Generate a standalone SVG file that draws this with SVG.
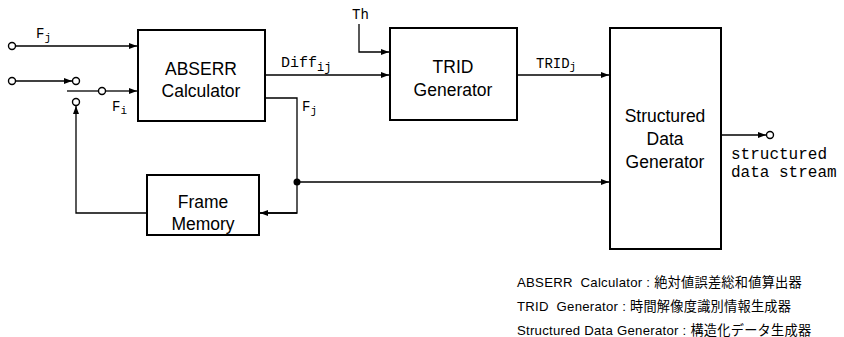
<svg xmlns="http://www.w3.org/2000/svg" width="844" height="337" viewBox="0 0 844 337">
<style>
.box{fill:#fff;stroke:#000;stroke-width:2}
.ln{fill:none;stroke:#000;stroke-width:1.3}
.term{fill:#fff;stroke:#000;stroke-width:1.4}
.lbl{font-family:"Liberation Sans",Arial,sans-serif;font-size:17.5px;fill:#000;text-anchor:middle}
.mono{font-family:"Liberation Mono","Courier New",monospace;font-size:14px;fill:#000}
.out{font-size:16px}
.leg{font-family:"Liberation Sans","Noto Sans CJK JP",sans-serif;font-size:13.2px;letter-spacing:0.25px;fill:#000;white-space:pre}
</style>
<defs>
<marker id="ar" markerWidth="8" markerHeight="6" refX="8" refY="3" orient="auto" markerUnits="userSpaceOnUse">
<path d="M0,0 L8,3 L0,6 z" fill="#000"/>
</marker>
</defs>
<rect width="844" height="337" fill="#fff"/>
<g id="abserr">
<rect class="box" x="138" y="30" width="127" height="91"/>
<text class="lbl" x="201" y="75">ABSERR</text>
<text class="lbl" x="201" y="97">Calculator</text>
</g>
<g id="trid">
<rect class="box" x="390" y="28" width="127" height="92"/>
<text class="lbl" x="453" y="73">TRID</text>
<text class="lbl" x="453" y="96">Generator</text>
</g>
<g id="sdg">
<rect class="box" x="610" y="28" width="111" height="221"/>
<text class="lbl" x="665" y="122">Structured</text>
<text class="lbl" x="665" y="145">Data</text>
<text class="lbl" x="665" y="168">Generator</text>
</g>
<g id="framemem">
<rect class="box" x="147" y="175" width="112" height="60"/>
<text class="lbl" x="203" y="208">Frame</text>
<text class="lbl" x="203" y="230">Memory</text>
</g>
<g id="connectors">
<path class="ln" d="M16,46 H137" marker-end="url(#ar)"/>
<path class="ln" d="M16,81 H72" marker-end="url(#ar)"/>
<path class="ln" d="M67,91 H98"/>
<path class="ln" d="M106,91 H137" marker-end="url(#ar)"/>
<path class="ln" d="M259,213 H297 V98 H265"/>
<path class="ln" d="M297,213 H260" marker-end="url(#ar)"/>
<path class="ln" d="M147,213 H76 V106" marker-end="url(#ar)"/>
<path class="ln" d="M265,75 H389" marker-end="url(#ar)"/>
<path class="ln" d="M359,24 V52 H389" marker-end="url(#ar)"/>
<path class="ln" d="M517,75 H609" marker-end="url(#ar)"/>
<path class="ln" d="M297,182 H609" marker-end="url(#ar)"/>
<path class="ln" d="M721,135 H766" marker-end="url(#ar)"/>
<circle cx="297" cy="182" r="3.5" fill="#000"/>
<circle class="term" cx="12" cy="46" r="3.5"/>
<circle class="term" cx="12" cy="81" r="3.5"/>
<circle class="term" cx="76" cy="81" r="3.5"/>
<circle class="term" cx="102" cy="91" r="3.5"/>
<circle class="term" cx="76" cy="102" r="3.5"/>
<circle class="term" cx="770" cy="135" r="3.5"/>
</g>
<g id="labels">
<text class="mono" x="36" y="38">F<tspan font-size="11" dy="3">j</tspan></text>
<text class="mono" x="112" y="111">F<tspan font-size="11" dy="3">i</tspan></text>
<text class="mono" x="302" y="111">F<tspan font-size="11" dy="3">j</tspan></text>
<text class="mono" x="281" y="67" style="font-size:15px">Diff<tspan font-size="12" dy="4">ij</tspan></text>
<text class="mono" x="352" y="19">Th</text>
<text class="mono" x="536" y="68">TRID<tspan font-size="11" dy="2">j</tspan></text>
<text class="mono out" x="731" y="159">structured</text>
<text class="mono out" x="731" y="177">data stream</text>
<text class="leg" x="517" y="287" xml:space="preserve">ABSERR  Calculator : 絶対値誤差総和値算出器</text>
<text class="leg" x="517" y="311" xml:space="preserve">TRID  Generator : 時間解像度識別情報生成器</text>
<text class="leg" x="517" y="335">Structured Data Generator : 構造化データ生成器</text>
</g>
</svg>
